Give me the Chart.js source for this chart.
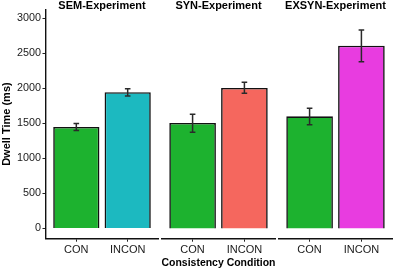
<!DOCTYPE html>
<html><head><meta charset="utf-8">
<script src="https://cdn.jsdelivr.net/npm/chart.js@4/dist/chart.umd.min.js"></script>
<style>
html,body{margin:0;padding:0;background:#fff;}
#wrap{position:relative;width:394px;height:270px;}
#wrap canvas{position:absolute;left:0;top:0;}
</style></head>
<body>
<div id="wrap">
<canvas id="c1" width="394" height="270"></canvas>
<canvas id="c2" width="394" height="270"></canvas>
<canvas id="c3" width="394" height="270"></canvas>
</div>
<script>
const categories = ['CON', 'INCON'];
const panelTitles = ['SEM-Experiment', 'SYN-Experiment', 'EXSYN-Experiment'];
const yTicks = [0, 500, 1000, 1500, 2000, 2500, 3000];

const semMean = [1450, 1945];
const semLow = [1400, 1890];
const semHigh = [1497, 1995];

const synMean = [1507, 2005];
const synLow = [1375, 1930];
const synHigh = [1630, 2088];

const exsynMean = [1601, 2609];
const exsynLow = [1482, 2380];
const exsynHigh = [1716, 2833];

const colorCon = '#1DB22F';
const colorSem = '#1CB9C0';
const colorSyn = '#F5675E';
const colorExsyn = '#E83CE0';

const FONT = "'Liberation Sans', Arial, sans-serif";
Chart.defaults.font.family = FONT;
Chart.defaults.color = '#222';

const errPlugin = {
  id: 'errbars',
  afterDatasetsDraw(chart, args, opts) {
    const meta = chart.getDatasetMeta(0);
    const ys = chart.scales.y;
    const ctx = chart.ctx;
    ctx.save();
    ctx.strokeStyle = '#2a2a2a';
    ctx.lineWidth = 1.5;
    meta.data.forEach((bar, i) => {
      const x = bar.x;
      const y1 = ys.getPixelForValue(opts.low[i]);
      const y2 = ys.getPixelForValue(opts.high[i]);
      ctx.beginPath();
      ctx.moveTo(x, y1); ctx.lineTo(x, y2);
      ctx.moveTo(x - 2.8, y1); ctx.lineTo(x + 2.8, y1);
      ctx.moveTo(x - 2.8, y2); ctx.lineTo(x + 2.8, y2);
      ctx.stroke();
    });
    ctx.restore();
  }
};
Chart.register(errPlugin);

function makePanel(id, title, mean, low, high, color2, opt) {
  const data = mean.map((v, i) => ({ x: i + 1, y: v }));
  new Chart(document.getElementById(id), {
    type: 'bar',
    data: {
      datasets: [{
        data: data,
        backgroundColor: [colorCon, color2],
        borderColor: '#111',
        borderWidth: 1.6,
        barPercentage: 0.9,
        categoryPercentage: 1.0
      }]
    },
    options: {
      responsive: false,
      animation: false,
      devicePixelRatio: 1,
      layout: { padding: { left: opt.padL, right: opt.padR, top: 0, bottom: 0 } },
      plugins: {
        legend: { display: false },
        tooltip: { enabled: false },
        title: {
          display: true, text: title, fullSize: false, color: '#000',
          font: { size: 11, weight: 'bold', lineHeight: 1 },
          padding: { top: 0, bottom: -1.5 }
        },
        errbars: { low: low, high: high }
      },
      scales: {
        x: {
          type: 'linear', min: 0.4, max: 2.6, offset: false,
          afterBuildTicks: s => { s.ticks = categories.map((c, i) => ({ value: i + 1 })); },
          afterFit: s => { s.height = 31.3; },
          ticks: {
            callback: (v) => categories[Math.round(v) - 1],
            font: { size: 11 }, color: '#1a1a1a', padding: 1.5, maxRotation: 0, autoSkip: false
          },
          grid: { display: true, drawOnChartArea: false, drawTicks: true, tickLength: 3, color: '#222', offset: false },
          border: { display: true, color: '#111', width: 1.4 },
          title: {
            display: opt.xTitle, text: 'Consistency Condition', color: '#000',
            font: { size: 11, weight: 'bold' }, padding: { top: 0, bottom: 0.5 }
          }
        },
        y: {
          display: opt.showY,
          min: -146, max: 3126,
          afterBuildTicks: s => { s.ticks = yTicks.map(v => ({ value: v })); },
          afterFit: s => { s.width = opt.showY ? 45.5 : 0; },
          ticks: { font: { size: 10.8 }, color: '#1a1a1a', padding: 1.5, callback: v => String(v) },
          grid: { display: true, drawOnChartArea: false, drawTicks: true, tickLength: 3, color: '#222' },
          border: { display: true, color: '#111', width: 1.4 },
          title: {
            display: true, text: 'Dwell Time (ms)', color: '#000',
            font: { size: 11, weight: 'bold' }, padding: { top: 0, bottom: 0 }
          }
        }
      }
    }
  });
}

makePanel('c1', panelTitles[0], semMean, semLow, semHigh, colorSem, { padL: 0, padR: 394 - 158.5, showY: true, xTitle: false });
makePanel('c2', panelTitles[1], synMean, synLow, synHigh, colorSyn, { padL: 161.5, padR: 394 - 275.5, showY: false, xTitle: true });
makePanel('c3', panelTitles[2], exsynMean, exsynLow, exsynHigh, colorExsyn, { padL: 278.5, padR: 394 - 392.5, showY: false, xTitle: false });
</script>
</body></html>
